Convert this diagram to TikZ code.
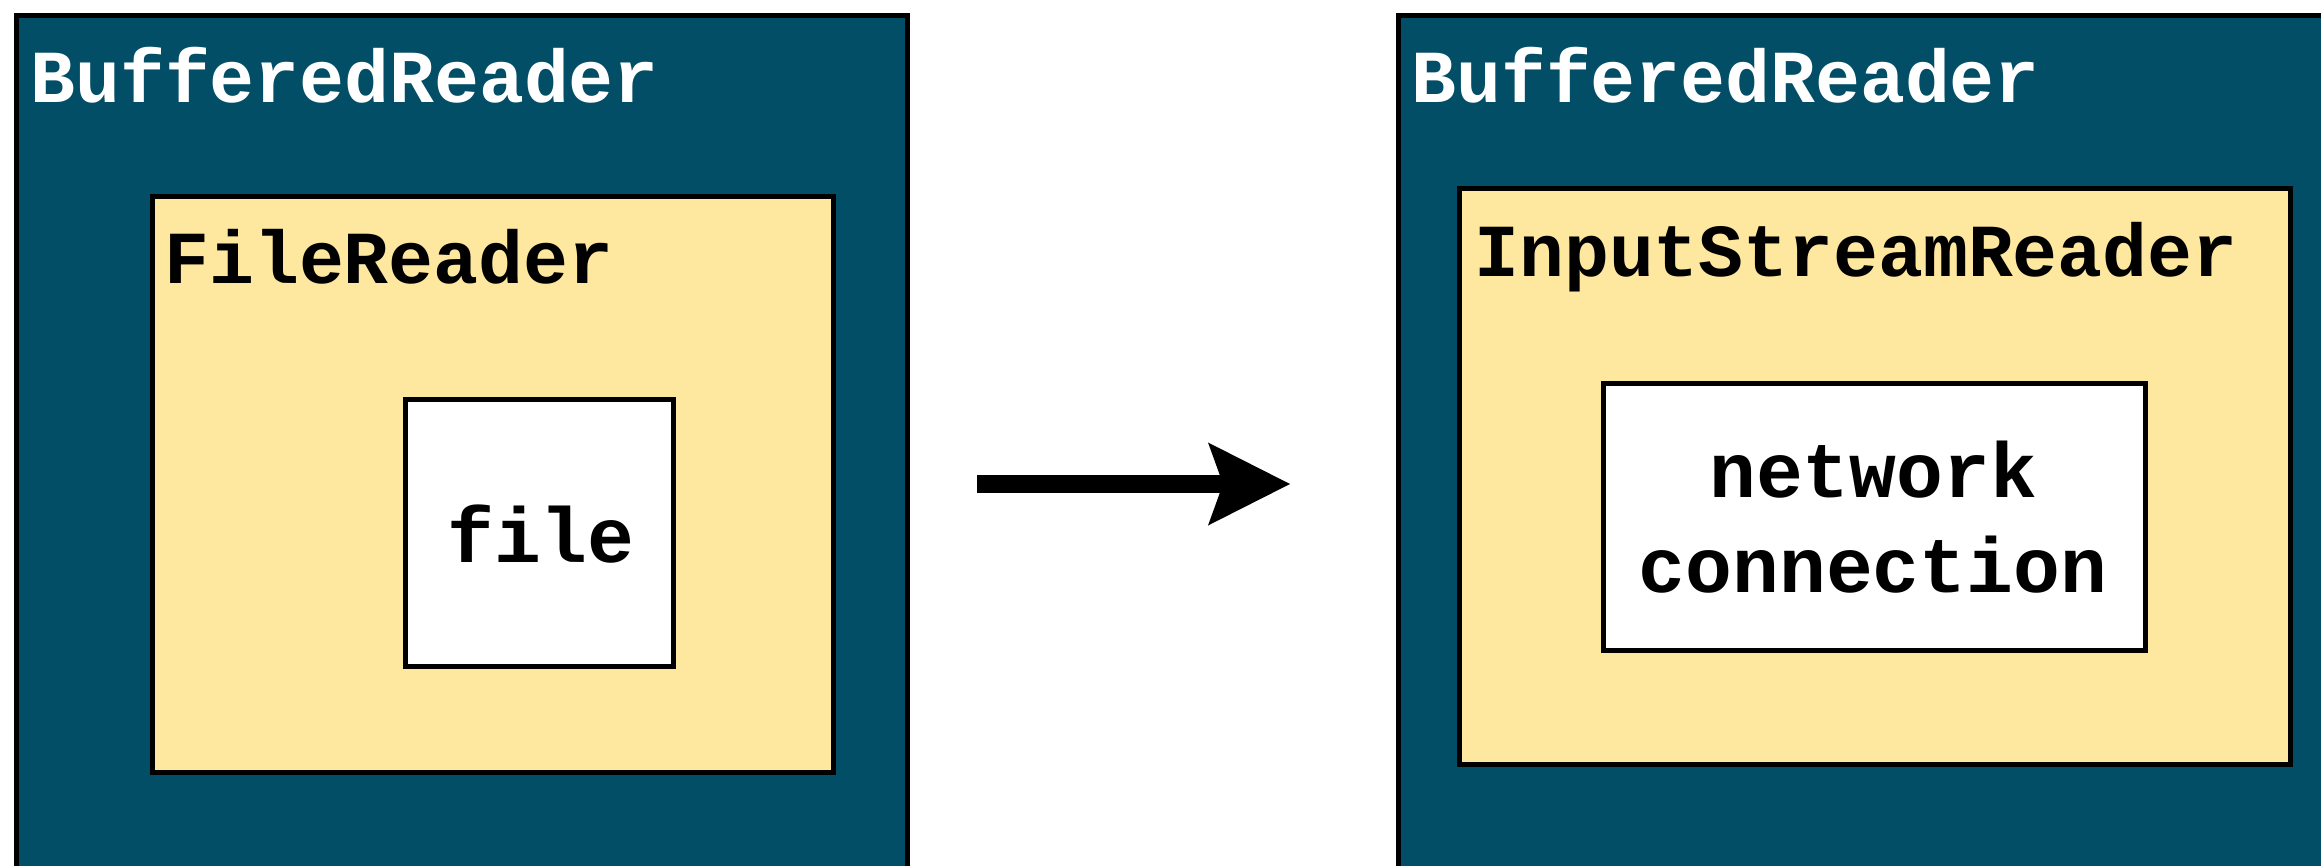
\documentclass[tikz,border=0pt]{standalone}
\usepackage{fontspec}
\usetikzlibrary{arrows.meta}
\newfontfamily\codefont{Liberation Mono}
\definecolor{teal}{HTML}{024E66}
\definecolor{sand}{HTML}{FEE79E}
\begin{document}
\begin{tikzpicture}[x=0.5pt, y=-0.5pt,
  panel/.style={draw=black, line width=2.5pt, anchor=north west, outer sep=0pt, inner sep=0pt},
  wrapper/.style={panel, fill=teal},
  reader/.style={panel, fill=sand},
  source/.style={panel, fill=white},
  title/.style={anchor=base west, inner sep=0pt, font=\codefont\bfseries\fontsize{37.4pt}{47.5pt}\selectfont},
  label/.style={anchor=base, inner sep=0pt, font=\codefont\bfseries\fontsize{39pt}{47.5pt}\selectfont}]
\useasboundingbox (0,0) rectangle (2321,866);
\clip (0,0) rectangle (2321,866);

% left chain: BufferedReader -> FileReader -> file
\node[wrapper, minimum width=445.5pt, minimum height=450pt] (bufL) at (16.5,15.5) {};
\node[reader, minimum width=340.3pt, minimum height=287.8pt] (fileRdr) at (152.5,196.5) {};
\node[source, minimum width=134pt, minimum height=133.5pt] (fileBox) at (405.7,399) {};
\node[title, text=white] (bufLtxt) at (30,103) {BufferedReader};
\node[title] (fileRdrTxt) at (164,283) {FileReader};
\node[label] (fileTxt) at (541,562) {file};

% right chain: BufferedReader -> InputStreamReader -> network connection
\node[wrapper, minimum width=480pt, minimum height=450pt] (bufR) at (1398.5,15.5) {};
\node[reader, minimum width=415.4pt, minimum height=288pt] (isr) at (1459.3,188.2) {};
\node[source, minimum width=270.6pt, minimum height=133.5pt] (net) at (1603.8,383) {};
\node[title, text=white] (bufRtxt) at (1411,103) {BufferedReader};
\node[title] (isrTxt) at (1474,277) {InputStreamReader};
\node[label] (netTxtA) at (1873,497) {network};
\node[label] (netTxtB) at (1873,592) {connection};

% transition arrow between the two chains
\coordinate (arrowFrom) at (977,484);
\coordinate (arrowTo) at (1290,484);
\draw[line width=9pt, -{Stealth[length=41pt, width=41.5pt, inset=7.5pt, line width=0pt]}] (arrowFrom) -- (arrowTo);
\end{tikzpicture}
\end{document}
